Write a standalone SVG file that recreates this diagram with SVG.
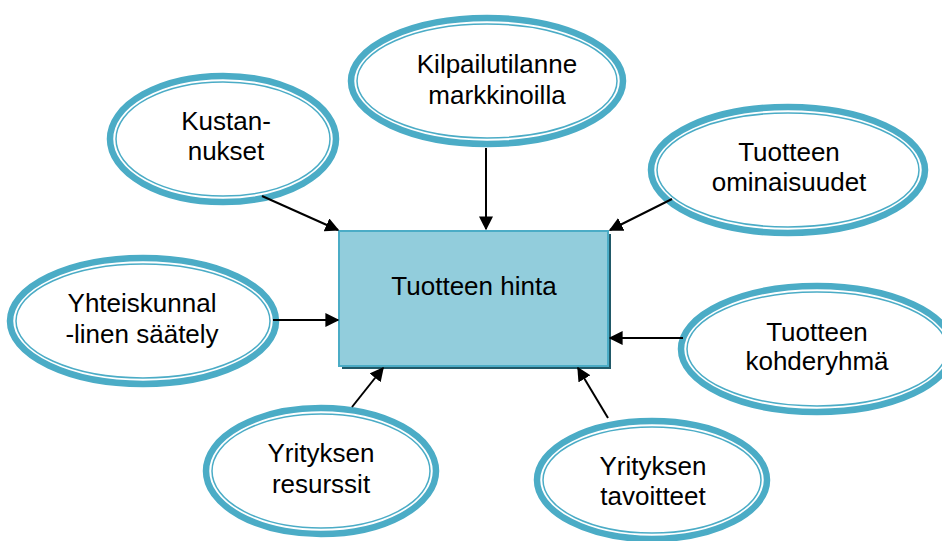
<svg xmlns="http://www.w3.org/2000/svg" width="942" height="541" viewBox="0 0 942 541">
  <style>
    .ring { fill: #ffffff; stroke: #4bacc6; stroke-width: 6.5; }
    .inner { fill: none; stroke: #4bacc6; stroke-width: 1.5; }
    .label { font-family: "Liberation Sans", Arial, sans-serif; font-size: 26px; fill: #000000; text-anchor: middle; }
    .conn { stroke: #000000; stroke-width: 2; fill: none; marker-end: url(#arrow); }
  </style>
  <defs>
    <marker id="arrow" viewBox="0 0 10 10" refX="9" refY="5" markerWidth="7" markerHeight="7" orient="auto" markerUnits="strokeWidth">
      <path d="M0,0 L10,5 L0,10 z" fill="#000000"/>
    </marker>
  </defs>

  <rect width="942" height="541" fill="#ffffff"/>

  <!-- central node -->
  <g id="hinta">
    <rect x="342" y="234" width="269" height="135" fill="#215968"/>
    <rect x="339" y="231" width="269" height="135" fill="#92cddc" stroke="#4bacc6" stroke-width="2"/>
    <text class="label" x="474" y="295">Tuotteen hinta</text>
  </g>

  <!-- surrounding factors -->
  <g id="kustannukset">
    <ellipse class="ring" cx="223" cy="139" rx="113" ry="63"/>
    <ellipse class="inner" cx="223" cy="139" rx="107" ry="57"/>
    <text class="label" x="226" y="130">Kustan-</text>
    <text class="label" x="226" y="160">nukset</text>
  </g>

  <g id="kilpailutilanne">
    <ellipse class="ring" cx="487" cy="81" rx="136" ry="63"/>
    <ellipse class="inner" cx="487" cy="81" rx="130" ry="57"/>
    <text class="label" x="497" y="73">Kilpailutilanne</text>
    <text class="label" x="497" y="104">markkinoilla</text>
  </g>

  <g id="ominaisuudet">
    <ellipse class="ring" cx="788" cy="170" rx="137" ry="63"/>
    <ellipse class="inner" cx="788" cy="170" rx="131" ry="57"/>
    <text class="label" x="789" y="161">Tuotteen</text>
    <text class="label" x="789" y="191">ominaisuudet</text>
  </g>

  <g id="yhteiskunnallinen">
    <ellipse class="ring" cx="143" cy="321" rx="133" ry="63"/>
    <ellipse class="inner" cx="143" cy="321" rx="127" ry="57"/>
    <text class="label" x="142" y="312">Yhteiskunnal</text>
    <text class="label" x="142" y="343">-linen säätely</text>
  </g>

  <g id="kohderyhma">
    <ellipse class="ring" cx="817" cy="349" rx="136" ry="63"/>
    <ellipse class="inner" cx="817" cy="349" rx="130" ry="57"/>
    <text class="label" x="817" y="341">Tuotteen</text>
    <text class="label" x="817" y="370">kohderyhmä</text>
  </g>

  <g id="resurssit">
    <ellipse class="ring" cx="321" cy="471" rx="115" ry="63"/>
    <ellipse class="inner" cx="321" cy="471" rx="109" ry="57"/>
    <text class="label" x="321" y="462">Yrityksen</text>
    <text class="label" x="321" y="493">resurssit</text>
  </g>

  <g id="tavoitteet">
    <ellipse class="ring" cx="652" cy="480" rx="115" ry="59"/>
    <ellipse class="inner" cx="652" cy="480" rx="109" ry="53"/>
    <text class="label" x="653" y="475">Yrityksen</text>
    <text class="label" x="653" y="505">tavoitteet</text>
  </g>

  <!-- arrows into the central node -->
  <g id="connectors">
    <line class="conn" x1="262" y1="196" x2="338" y2="230"/>
    <line class="conn" x1="486" y1="148" x2="486" y2="229"/>
    <line class="conn" x1="672" y1="199" x2="610" y2="230"/>
    <line class="conn" x1="273" y1="320" x2="338" y2="320"/>
    <line class="conn" x1="683" y1="338" x2="610" y2="338"/>
    <line class="conn" x1="352" y1="407" x2="383" y2="368"/>
    <line class="conn" x1="608" y1="418" x2="578" y2="368"/>
  </g>
</svg>
